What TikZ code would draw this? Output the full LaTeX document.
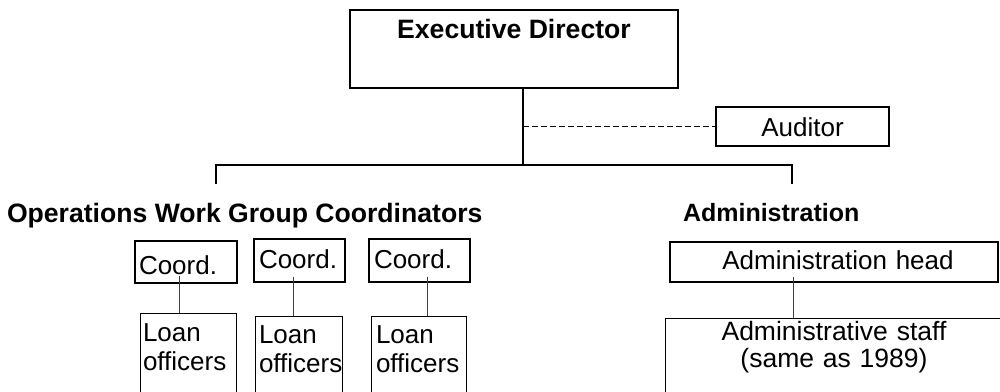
\documentclass[tikz,border=0pt]{standalone}
\usepackage{fontspec}
\setmainfont{Liberation Sans}
\begin{document}
\begin{tikzpicture}[x=1pt,y=-1pt,
  every node/.style={inner sep=0pt, outer sep=0pt, font=\fontsize{26}{29}\selectfont},
  headfont/.style={font=\fontsize{26.6}{30}\selectfont\bfseries},
  topbox/.style={draw, line width=2pt},
  audbox/.style={draw, line width=1.5pt},
  coordbox/.style={draw, line width=2.6pt, align=left},
  loanbox/.style={draw, line width=1pt, align=left},
  trunk/.style={line width=2pt},
  dashlink/.style={line width=1.3pt, dash pattern=on 6pt off 3pt},
  link/.style={line width=1pt, draw=black!75}
]
\path[use as bounding box] (0,0) rectangle (1000,391);
\clip (0,0) rectangle (1000,391);

% top of the chart
\node[topbox, headfont, anchor=north, minimum width=328pt,
      text height=28pt, text depth=50pt] (ed) at (514,10) {Executive Director};
\node[audbox, anchor=north west, minimum width=173pt,
      text height=29pt, text depth=10pt] (aud) at (716,107) {Auditor};

% branch headings
\node[headfont, anchor=base west] (ops) at (7,222) {Operations Work Group Coordinators};
\node[headfont, font=\fontsize{25}{30}\selectfont\bfseries, anchor=base west] (adm) at (683,221) {Administration};

% operations coordinators
\node[coordbox, anchor=north west, inner xsep=4pt, text width=94pt,
      text height=33pt, text depth=9pt] (c1) at (135,241) {Coord.};
\node[coordbox, anchor=north west, inner xsep=5pt, text width=81pt,
      text height=29pt, text depth=14pt] (c2) at (254,239) {Coord.};
\node[coordbox, anchor=north west, inner xsep=5pt, text width=91pt,
      text height=29pt, text depth=14pt] (c3) at (369,239) {Coord.};

% loan officers
\node[loanbox, anchor=north west, inner xsep=3pt, text width=90pt,
      text height=28pt, text depth=120pt] (l1) at (140,313) {Loan\\officers};
\node[loanbox, anchor=north west, inner xsep=4pt, text width=79pt,
      text height=27pt, text depth=120pt] (l2) at (255,316) {Loan\\officers};
\node[loanbox, anchor=north west, inner xsep=5pt, text width=85pt,
      text height=27pt, text depth=120pt] (l3) at (371,316) {Loan\\officers};

% administration
\node[coordbox, anchor=north west, inner xsep=0pt, text width=328pt, align=center,
      text height=27pt, text depth=13pt] (ah) at (670,242) {\hspace*{8pt}Administration head};
\node[loanbox, anchor=north west, inner xsep=0pt, text width=338pt, align=center,
      font=\fontsize{26.5}{27}\selectfont,
      text height=22pt, text depth=120pt] (st) at (665,318) {Administrative staff\\(same as 1989)};

% trunk lines
\coordinate (j) at (523,165);
\coordinate (opsdrop) at (216,184);
\coordinate (admdrop) at (792,184);
\draw[trunk] (ed.south -| j) -- (j);
\draw[trunk] (opsdrop) |- (j) -| (admdrop);
\draw[dashlink] (aud.west -| j) -- (aud.west);

% coordinator to staff links
\coordinate (k1) at (179,276);
\coordinate (k2) at (293,277);
\coordinate (k3) at (427,277);
\coordinate (k4) at (793,277);
\draw[link] (k1) -- (k1 |- l1.north);
\draw[link] (k2) -- (k2 |- l2.north);
\draw[link] (k3) -- (k3 |- l3.north);
\draw[link] (k4) -- (k4 |- st.north);
\end{tikzpicture}
\end{document}
